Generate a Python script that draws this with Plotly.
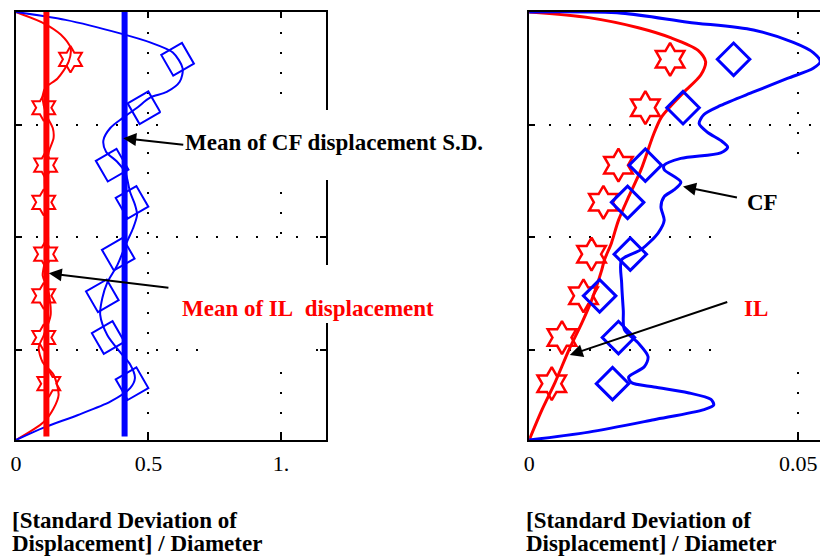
import plotly.graph_objects as go

# ---------------- data ----------------
# marker rows (shared vertical positions, arbitrary length units 0..3.8)
row_pos = [3.38, 2.95, 2.44, 2.11, 1.65, 1.28, 0.91, 0.50]

# left panel (normalised S.D.)
il_sd_left = [0.206, 0.105, 0.112, 0.105, 0.112, 0.105, 0.105, 0.124]
cf_sd_left = [0.61, 0.483, 0.363, 0.438, 0.386, 0.326, 0.348, 0.438]
il_mean = 0.115
cf_mean = 0.41

il_curve_left_x = [0, 0.105, 0.169, 0.206, 0.199, 0.157, 0.112, 0.101, 0.105, 0.120, 0.139,
                   0.142, 0.124, 0.109, 0.112, 0.120, 0.120, 0.101, 0.120, 0.131, 0.105,
                   0.086, 0.101, 0.142, 0.161, 0.142, 0.105, 0]
il_curve_left_y = [3.80, 3.70, 3.60, 3.48, 3.36, 3.21, 3.13, 3.06, 2.97, 2.86, 2.77,
                   2.68, 2.56, 2.35, 2.13, 1.91, 1.70, 1.46, 1.35, 1.11, 0.93,
                   0.82, 0.69, 0.58, 0.40, 0.28, 0.16, 0]

cf_curve_left_x = [0, 0.187, 0.393, 0.506, 0.592, 0.629, 0.618, 0.569, 0.506, 0.457, 0.404,
                   0.356, 0.330, 0.340, 0.382, 0.412, 0.431, 0.449, 0.457, 0.442, 0.419,
                   0.382, 0.345, 0.326, 0.318, 0.345, 0.393, 0.431, 0.449, 0.431, 0.356,
                   0.232, 0.105, 0]
cf_curve_left_y = [3.80, 3.73, 3.61, 3.53, 3.44, 3.30, 3.18, 3.09, 3.04, 2.95, 2.86,
                   2.77, 2.66, 2.56, 2.47, 2.38, 2.20, 2.09, 2.00, 1.88, 1.76,
                   1.55, 1.40, 1.26, 1.11, 0.93, 0.78, 0.67, 0.55, 0.46, 0.34,
                   0.22, 0.11, 0]

# right panel
il_sd_right = [0.0262, 0.0216, 0.0166, 0.0138, 0.0116, 0.0101, 0.0061, 0.0042]
cf_sd_right = [0.0380, 0.0286, 0.0216, 0.0183, 0.0188, 0.0131, 0.0166, 0.0155]

il_curve_right_x = [0, 0.0111, 0.0203, 0.0264, 0.0314, 0.0328, 0.0319, 0.0288, 0.0264, 0.0245,
                    0.0231, 0.0208, 0.0185, 0.0166, 0.0153, 0.0140, 0.0135, 0.0116, 0.0098,
                    0.0074, 0.0048, 0.0024, 0]
il_curve_right_y = [3.80, 3.75, 3.66, 3.57, 3.46, 3.36, 3.24, 3.09, 2.97, 2.86,
                    2.71, 2.40, 2.16, 1.95, 1.75, 1.60, 1.51, 1.24, 1.04,
                    0.80, 0.51, 0.27, 0]

cf_curve_right_x = [0, 0.0172, 0.0295, 0.0417, 0.0491, 0.0528, 0.0541, 0.0528, 0.0480, 0.0417,
                    0.0356, 0.0325, 0.0316, 0.0332, 0.0356, 0.0369, 0.0356, 0.0282, 0.0251,
                    0.0251, 0.0282, 0.0269, 0.0251, 0.0245, 0.0251, 0.0240, 0.0208, 0.0172,
                    0.0172, 0.0175, 0.0177, 0.0203, 0.0221, 0.0214, 0.0185, 0.0190, 0.0232,
                    0.0295, 0.0338, 0.0343, 0.0325, 0.0232, 0.0111, 0]
cf_curve_right_y = [3.80, 3.79, 3.71, 3.64, 3.53, 3.44, 3.36, 3.30, 3.21, 3.09,
                    2.97, 2.89, 2.81, 2.73, 2.66, 2.60, 2.55, 2.50, 2.44,
                    2.40, 2.29, 2.22, 2.16, 2.07, 1.95, 1.84, 1.69, 1.60,
                    1.39, 1.15, 0.98, 0.86, 0.74, 0.65, 0.56, 0.51, 0.47,
                    0.42, 0.36, 0.31, 0.27, 0.18, 0.07, 0]

left_ticks = [0, 0.5, 1.0]
left_ticktext = ["0", "0.5", "1."]
right_ticks = [0, 0.05]
right_ticktext = ["0", "0.05"]
row_grid = [0.8, 1.8, 2.8]

RED = "#ff0000"
BLUE = "#0000ff"
FONT = "Liberation Serif"

W, H = 820, 556
def px(x):
    return x / W
def py(y):
    return 1 - y / H

fig = go.Figure()

# ---- left panel ----
fig.add_trace(go.Scatter(x=il_curve_left_x, y=il_curve_left_y, mode="lines",
                         line=dict(color=RED, width=2, shape="spline", smoothing=0.8),
                         xaxis="x", yaxis="y"))
fig.add_trace(go.Scatter(x=cf_curve_left_x, y=cf_curve_left_y, mode="lines",
                         line=dict(color=BLUE, width=2, shape="spline", smoothing=0.8),
                         xaxis="x", yaxis="y"))
fig.add_trace(go.Scatter(x=[il_mean, il_mean], y=[0.03, 3.8], mode="lines",
                         line=dict(color=RED, width=6), xaxis="x", yaxis="y"))
fig.add_trace(go.Scatter(x=[cf_mean, cf_mean], y=[0.03, 3.8], mode="lines",
                         line=dict(color=BLUE, width=6), xaxis="x", yaxis="y"))
fig.add_trace(go.Scatter(x=il_sd_left, y=row_pos, mode="markers",
                         marker=dict(symbol="hexagram-open", size=20, color=RED,
                                     line=dict(color=RED, width=2)),
                         xaxis="x", yaxis="y"))
fig.add_trace(go.Scatter(x=cf_sd_left, y=row_pos, mode="markers",
                         marker=dict(symbol="diamond-open", size=26, color=BLUE, angle=15,
                                     line=dict(color=BLUE, width=2)),
                         xaxis="x", yaxis="y"))

# ---- right panel ----
fig.add_trace(go.Scatter(x=il_curve_right_x, y=il_curve_right_y, mode="lines",
                         line=dict(color=RED, width=3, shape="spline", smoothing=0.8),
                         xaxis="x2", yaxis="y2"))
fig.add_trace(go.Scatter(x=cf_curve_right_x, y=cf_curve_right_y, mode="lines",
                         line=dict(color=BLUE, width=3, shape="spline", smoothing=0.8),
                         xaxis="x2", yaxis="y2"))
fig.add_trace(go.Scatter(x=il_sd_right, y=row_pos, mode="markers",
                         marker=dict(symbol="hexagram-open", size=25, color=RED,
                                     line=dict(color=RED, width=2.5)),
                         xaxis="x2", yaxis="y2"))
fig.add_trace(go.Scatter(x=cf_sd_right, y=row_pos, mode="markers",
                         marker=dict(symbol="diamond-open", size=25, color=BLUE,
                                     line=dict(color=BLUE, width=3)),
                         xaxis="x2", yaxis="y2"))

grid = dict(showgrid=True, gridcolor="black", gridwidth=2, griddash="2px,18px",
            zeroline=False, ticks="inside", ticklen=6, tickcolor="black", tickwidth=1.5,
            linecolor="black", linewidth=2, showline=True)

ydom = [py(440), py(12)]
fig.update_layout(
    width=W, height=H, margin=dict(l=0, r=0, t=0, b=0),
    paper_bgcolor="white", plot_bgcolor="white", showlegend=False,
    font=dict(family=FONT, size=22, color="black"),
    xaxis=dict(domain=[px(10), px(322)], range=[0, 1.1685], tickvals=left_ticks,
               ticktext=left_ticktext, mirror="ticks", anchor="y", ticklabelstandoff=3,
               tickfont=dict(family=FONT, size=22), **grid),
    yaxis=dict(domain=ydom, range=[0, 3.8], tickvals=row_grid, showticklabels=False,
               mirror="ticks", anchor="x", **grid),
    xaxis2=dict(domain=[px(527), 1.0], range=[0, 0.05406], tickvals=right_ticks,
                ticktext=right_ticktext, mirror="ticks", anchor="y2", ticklabelstandoff=3,
                tickfont=dict(family=FONT, size=22), **grid),
    yaxis2=dict(domain=ydom, range=[0, 3.8], tickvals=row_grid, showticklabels=False,
                mirror=False, anchor="x2", **grid),
)

# white label patches (cover grid / frame like the original)
patches = [
    (156, 110, 330, 180),
    (210, 252, 300, 372),
    (300, 265, 330, 323),
    (720, 228, 822, 372),
    (740, 168, 822, 218),
]
for x0, y0, x1, y1 in patches:
    fig.add_shape(type="rect", xref="paper", yref="paper",
                  x0=px(x0), x1=px(x1), y0=py(y1), y1=py(y0),
                  fillcolor="white", line=dict(width=0), layer="above")

def arrow(xh, yh, xt, yt, xa, ya):
    fig.add_annotation(x=xh, y=yh, ax=xt, ay=yt, xref=xa, yref=ya, axref=xa, ayref=ya,
                       text="", showarrow=True, arrowhead=2, arrowsize=1.3,
                       arrowwidth=2, arrowcolor="black", standoff=0, startstandoff=0)

arrow(0.405, 2.68, 0.637, 2.62, "x", "y")
arrow(0.124, 1.48, 0.581, 1.35, "x", "y")
arrow(0.0286, 2.25, 0.0389, 2.15, "x2", "y2")
arrow(0.00756, 0.755, 0.0371, 1.23, "x2", "y2")

def label(text, x, y, color="black", size=23):
    fig.add_annotation(x=px(x), y=py(y), xref="paper", yref="paper", text=text,
                       showarrow=False, xanchor="left", yanchor="middle",
                       font=dict(family=FONT, size=size, color=color))

label("<b>Mean of CF displacement S.D.</b>", 178, 143)
label("<b>Mean of IL&nbsp; displacement</b>", 175, 308, RED)
label("<b>CF</b>", 744, 203)
label("<b>IL</b>", 741, 308, RED)

for xl in (4, 522):
    label("<b>[Standard Deviation of</b>", xl, 520)
    label("<b>Displacement] / Diameter</b>", xl, 543)

fig.write_html("out.html")
